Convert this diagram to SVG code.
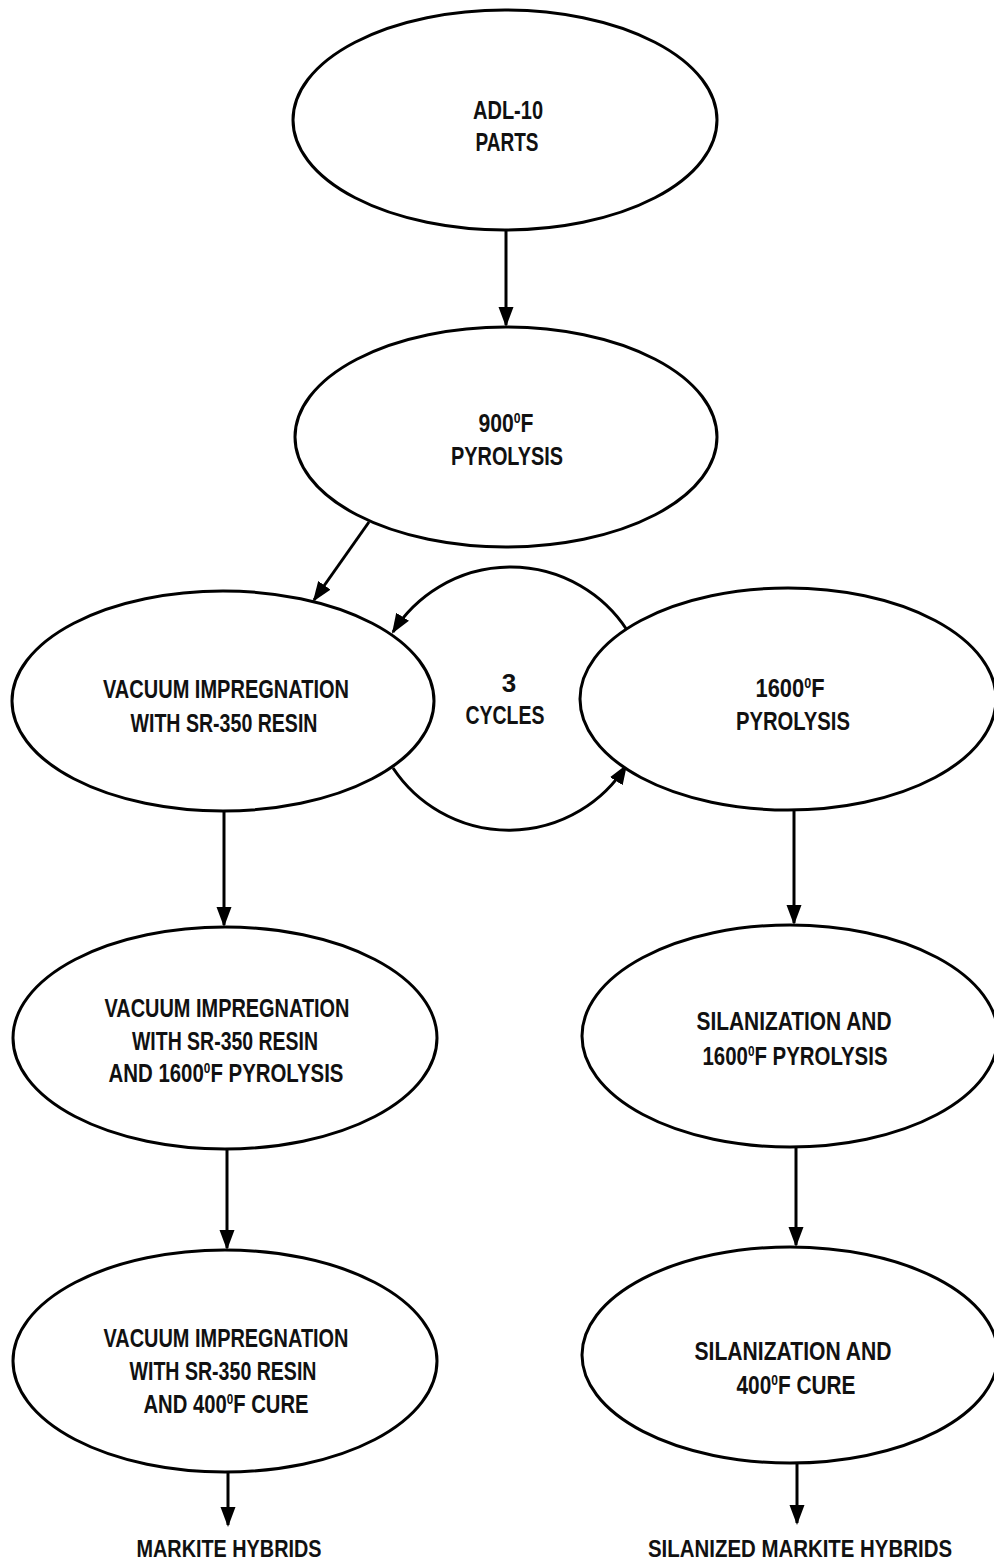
<svg xmlns="http://www.w3.org/2000/svg" width="994" height="1568" viewBox="0 0 994 1568">
<style>
.node ellipse{fill:#fff;stroke:#000;stroke-width:3}
text{font-family:"Liberation Sans Narrow","Liberation Sans",Arial,sans-serif;font-weight:bold;font-size:26px;fill:#111;text-anchor:middle}
.sup{font-size:15px;baseline-shift:9px}
.lbl{font-size:23px}
.conn path{fill:none;stroke:#000;stroke-width:3;marker-end:url(#arr)}
</style>
<defs>
<marker id="arr" markerUnits="userSpaceOnUse" markerWidth="22" markerHeight="16" refX="18" refY="8" orient="auto">
<path d="M0,0.5 L20,8 L0,15.5 z" fill="#000"/>
</marker>
</defs>
<rect width="994" height="1568" fill="#fff"/>
<g class="conn" id="connectors">
<path d="M506,230 L506,325"/>
<path d="M369,522 L314,600"/>
<path d="M224,812 L224,925"/>
<path d="M794,810 L794,923"/>
<path d="M227,1150 L227,1248"/>
<path d="M796,1147 L796,1245"/>
<path d="M228,1472 L228,1525"/>
<path d="M797,1463 L797,1523"/>
<path d="M627,630 A139,139 0 0 0 393,632"/>
<path d="M393,768 A139,139 0 0 0 626,766"/>
</g>
<g class="node" id="adl10">
<ellipse cx="505" cy="120" rx="212" ry="110"/>
<text x="508" y="119" textLength="70" lengthAdjust="spacingAndGlyphs">ADL-10</text>
<text x="507" y="151" textLength="63" lengthAdjust="spacingAndGlyphs">PARTS</text>
</g>
<g class="node" id="pyro900">
<ellipse cx="506" cy="437" rx="211" ry="110"/>
<text x="506" y="432" textLength="55" lengthAdjust="spacingAndGlyphs">900<tspan class="sup">0</tspan>F</text>
<text x="507" y="465" textLength="112" lengthAdjust="spacingAndGlyphs">PYROLYSIS</text>
</g>
<g class="node" id="vacimp">
<ellipse cx="223" cy="701" rx="211" ry="110"/>
<text x="226" y="698" textLength="246" lengthAdjust="spacingAndGlyphs">VACUUM IMPREGNATION</text>
<text x="224" y="732" textLength="187" lengthAdjust="spacingAndGlyphs">WITH SR-350 RESIN</text>
</g>
<g class="node" id="pyro1600">
<ellipse cx="788" cy="699" rx="208" ry="111"/>
<text x="790" y="697" textLength="69" lengthAdjust="spacingAndGlyphs">1600<tspan class="sup">0</tspan>F</text>
<text x="793" y="730" textLength="114" lengthAdjust="spacingAndGlyphs">PYROLYSIS</text>
</g>
<g id="cycles">
<text x="509" y="692">3</text>
<text x="505" y="724" textLength="79" lengthAdjust="spacingAndGlyphs">CYCLES</text>
</g>
<g class="node" id="vacimp1600">
<ellipse cx="225" cy="1038" rx="212" ry="111"/>
<text x="227" y="1017" textLength="245" lengthAdjust="spacingAndGlyphs">VACUUM IMPREGNATION</text>
<text x="225" y="1050" textLength="186" lengthAdjust="spacingAndGlyphs">WITH SR-350 RESIN</text>
<text x="226" y="1082" textLength="235" lengthAdjust="spacingAndGlyphs">AND 1600<tspan class="sup">0</tspan>F PYROLYSIS</text>
</g>
<g class="node" id="sil1600">
<ellipse cx="790" cy="1036" rx="208" ry="111"/>
<text x="794" y="1030" textLength="195" lengthAdjust="spacingAndGlyphs">SILANIZATION AND</text>
<text x="795" y="1065" textLength="185" lengthAdjust="spacingAndGlyphs">1600<tspan class="sup">0</tspan>F PYROLYSIS</text>
</g>
<g class="node" id="vacimp400">
<ellipse cx="225" cy="1361" rx="212" ry="111"/>
<text x="226" y="1347" textLength="245" lengthAdjust="spacingAndGlyphs">VACUUM IMPREGNATION</text>
<text x="223" y="1380" textLength="187" lengthAdjust="spacingAndGlyphs">WITH SR-350 RESIN</text>
<text x="226" y="1413" textLength="165" lengthAdjust="spacingAndGlyphs">AND 400<tspan class="sup">0</tspan>F CURE</text>
</g>
<g class="node" id="sil400">
<ellipse cx="790" cy="1355" rx="208" ry="108"/>
<text x="793" y="1360" textLength="197" lengthAdjust="spacingAndGlyphs">SILANIZATION AND</text>
<text x="796" y="1394" textLength="119" lengthAdjust="spacingAndGlyphs">400<tspan class="sup">0</tspan>F CURE</text>
</g>
<g id="markite">
<text class="lbl" x="229" y="1557" textLength="185" lengthAdjust="spacingAndGlyphs">MARKITE HYBRIDS</text>
</g>
<g id="silmarkite">
<text class="lbl" x="800" y="1557" textLength="304" lengthAdjust="spacingAndGlyphs">SILANIZED MARKITE HYBRIDS</text>
</g>
</svg>
